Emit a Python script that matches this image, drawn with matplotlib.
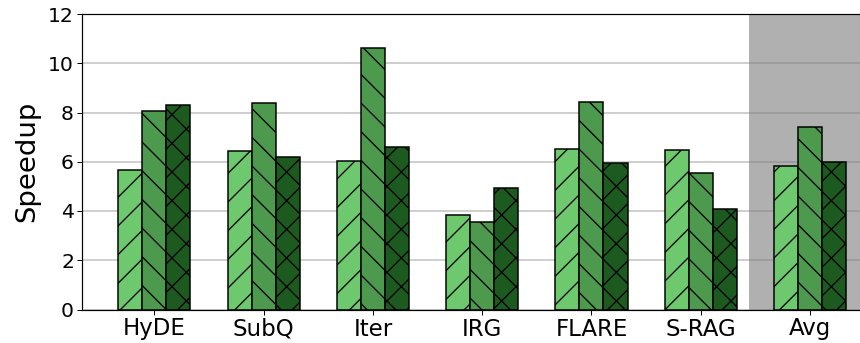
import matplotlib
matplotlib.use("Agg")
import matplotlib.pyplot as plt
import numpy as np

categories = ["HyDE", "SubQ", "Iter", "IRG", "FLARE", "S-RAG", "Avg"]
series_a = [5.68, 6.45, 6.05, 3.85, 6.53, 6.46, 5.84]
series_b = [8.07, 8.38, 10.63, 3.55, 8.42, 5.54, 7.43]
series_c = [8.32, 6.19, 6.59, 4.92, 5.95, 4.09, 6.01]
yticks = [0, 2, 4, 6, 8, 10, 12]

colors = ["#6ec96e", "#4d9a4f", "#1d5a1f"]
hatches = ["/", "\\", "x"]

DPI = 86


def px(v):
    """Convert a size in pixels to points at the output resolution."""
    return v * 72 / DPI


plt.rcParams["hatch.linewidth"] = px(1.3)
plt.rcParams["font.family"] = ["DejaVu Sans"]

fig = plt.figure(figsize=(861 / DPI, 343 / DPI), dpi=DPI)
ax = fig.add_axes([82 / 861, 1 - 309.5 / 343, 1.002 - 82 / 861, (309.5 - 14) / 343])

x = np.arange(len(categories))
width = 0.22
for i, (vals, col, h) in enumerate(zip([series_a, series_b, series_c], colors, hatches)):
    ax.bar(x + (i - 1) * width, vals, width, color=col, edgecolor="black",
           linewidth=px(1.5), hatch=h, zorder=2)

ax.axvspan(5.44, 6.6, color="#b0b0b0", zorder=0.2, linewidth=0)

ax.set_xlim(-0.663, 6.483)
ax.set_ylim(0, 12)
ax.set_yticks(yticks)
ax.set_xticks(x)
ax.set_xticklabels(categories, fontsize=px(22.9))
ax.tick_params(axis="y", labelsize=px(20.4), length=px(5), width=px(1), pad=px(3))
ax.tick_params(axis="x", length=px(5), width=px(1), pad=px(3))
ax.set_ylabel("Speedup", fontsize=px(27.5), labelpad=px(8))

ax.set_axisbelow(True)
ax.yaxis.grid(True, color="gray", alpha=0.5, linewidth=px(1.5), zorder=0.5)
for s in ax.spines.values():
    s.set_linewidth(px(1.2))

fig.savefig("out.png", dpi=DPI)
